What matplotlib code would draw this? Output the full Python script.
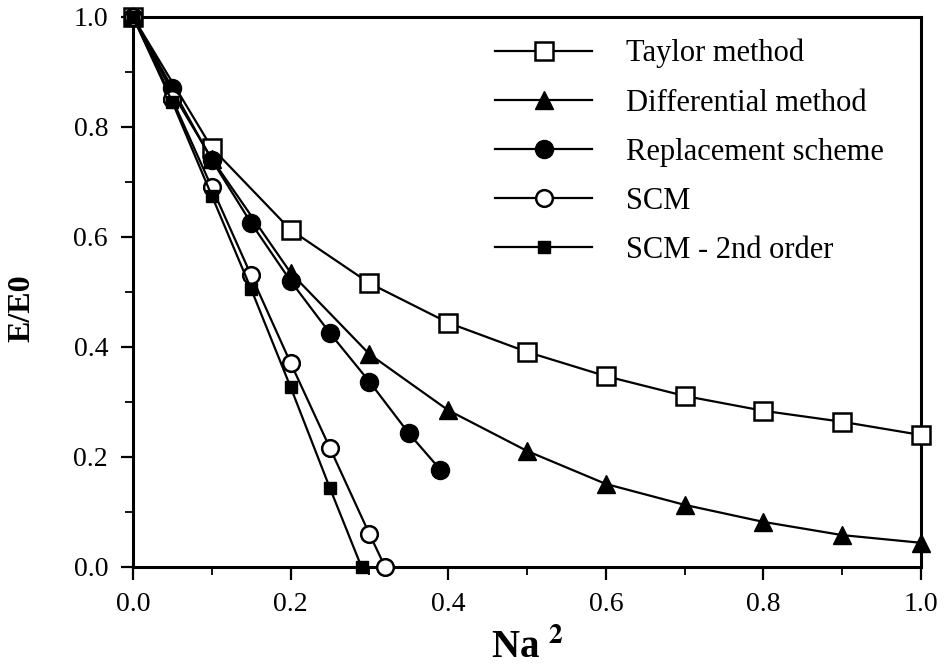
import matplotlib
matplotlib.use("Agg")
import matplotlib.pyplot as plt
from matplotlib.ticker import MultipleLocator

plt.rcParams['font.family'] = ['Liberation Serif', 'DejaVu Serif']
plt.rcParams['mathtext.fontset'] = 'stix'

# data
x_taylor = [0.0, 0.1, 0.2, 0.3, 0.4, 0.5, 0.6, 0.7, 0.8, 0.9, 1.0]
y_taylor = [1.0, 0.762, 0.613, 0.516, 0.444, 0.391, 0.347, 0.311, 0.284, 0.264, 0.240]

x_diff = [0.0, 0.05, 0.1, 0.2, 0.3, 0.4, 0.5, 0.6, 0.7, 0.8, 0.9, 1.0]
y_diff = [1.0, 0.862, 0.742, 0.535, 0.387, 0.285, 0.211, 0.151, 0.113, 0.082, 0.058, 0.044]

x_repl = [0.0, 0.05, 0.1, 0.15, 0.2, 0.25, 0.3, 0.35, 0.39]
y_repl = [1.0, 0.870, 0.740, 0.625, 0.520, 0.425, 0.337, 0.243, 0.177]

x_scm = [0.0, 0.05, 0.1, 0.15, 0.2, 0.25, 0.3, 0.32]
y_scm = [1.0, 0.850, 0.690, 0.530, 0.371, 0.216, 0.060, 0.0]

x_scm2 = [0.0, 0.05, 0.1, 0.15, 0.2, 0.25, 0.29]
y_scm2 = [1.0, 0.845, 0.675, 0.505, 0.327, 0.143, 0.0]

fig = plt.figure(figsize=(9.46, 6.68), dpi=100)
ax = fig.add_axes([0.1406, 0.1512, 0.833, 0.8234])

ax.plot(x_taylor, y_taylor, color='black', lw=1.6, marker='s', ms=13,
        mfc='white', mec='black', mew=1.8, label='Taylor method', clip_on=False, zorder=3)
ax.plot(x_diff, y_diff, color='black', lw=1.6, marker='^', ms=13,
        mfc='black', mec='black', label='Differential method', clip_on=False, zorder=3)
ax.plot(x_repl, y_repl, color='black', lw=1.6, marker='o', ms=13,
        mfc='black', mec='black', label='Replacement scheme', clip_on=False, zorder=3)
ax.plot(x_scm, y_scm, color='black', lw=1.6, marker='o', ms=12,
        mfc='white', mec='black', mew=1.8, label='SCM', clip_on=False, zorder=4)
ax.plot(x_scm2, y_scm2, color='black', lw=1.6, marker='s', ms=8,
        mfc='black', mec='black', label='SCM - 2nd order', clip_on=False, zorder=4)

ax.set_xlim(0, 1.0)
ax.set_ylim(0, 1.0)
ax.xaxis.set_major_locator(MultipleLocator(0.2))
ax.xaxis.set_minor_locator(MultipleLocator(0.1))
ax.yaxis.set_major_locator(MultipleLocator(0.2))
ax.yaxis.set_minor_locator(MultipleLocator(0.1))
ax.set_xticklabels(['%.1f' % v for v in ax.get_xticks()])
ax.set_yticklabels(['%.1f' % v for v in ax.get_yticks()])
ax.tick_params(which='major', direction='out', length=9, width=1.6, labelsize=20, pad=9)
ax.tick_params(which='minor', direction='out', length=6, width=1.3)
for sp in ax.spines.values():
    sp.set_linewidth(2.2)

ax.set_xlabel(r'Na $^{\mathbf{2}}$', fontsize=28, fontweight='bold', labelpad=9)
ax.set_ylabel('E/E0', fontsize=23, fontweight='bold')
ax.yaxis.set_label_coords(-0.122, 0.47)

ax.legend(loc='upper left', frameon=False, fontsize=22, handlelength=3.2,
          handletextpad=1.1, labelspacing=0.66, borderaxespad=0, borderpad=0,
          bbox_to_anchor=(0.459, 0.96))

fig.savefig('out.png', dpi=100)
